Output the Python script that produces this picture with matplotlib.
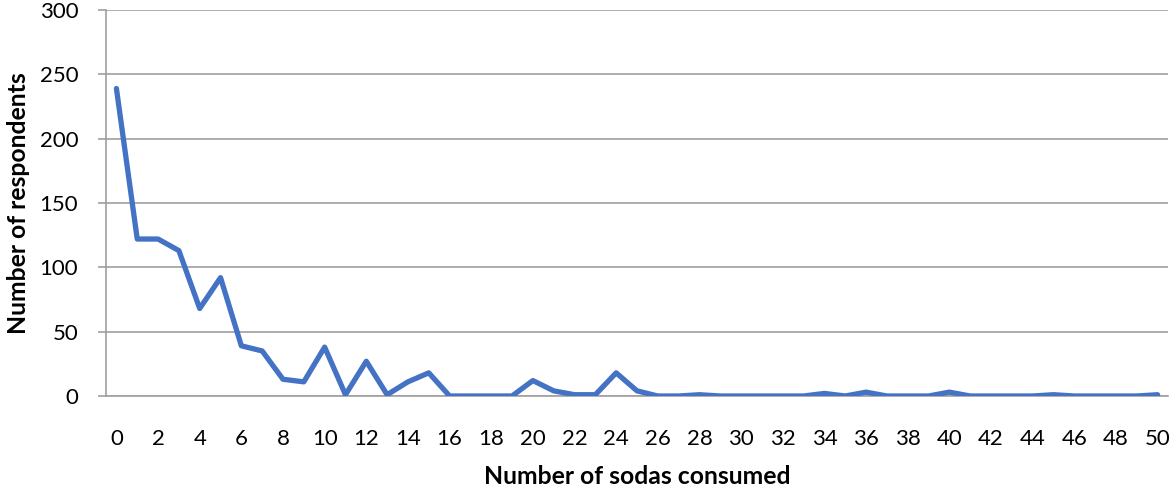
import matplotlib.pyplot as plt

# how many respondents reported each number of sodas (0..50)
sodas = list(range(51))
respondents = [239, 122, 122, 113, 68, 92, 39, 35, 13, 11,
               38, 1, 27, 1, 11, 18, 0, 0, 0, 0,
               12, 4, 1, 1, 18, 4, 0, 0, 1, 0,
               0, 0, 0, 0, 2, 0, 3, 0, 0, 0,
               3, 0, 0, 0, 0, 1, 0, 0, 0, 0,
               1]
y_ticks = [0, 50, 100, 150, 200, 250, 300]

plt.rcParams['font.family'] = ['Lato', 'DejaVu Sans']

fig = plt.figure(figsize=(11.7, 4.9), dpi=100)
ax = fig.add_axes([106 / 1170, 1 - 396 / 490, (1168 - 106) / 1170, 386 / 490])

ax.plot(sodas, respondents, color='#4472C4', linewidth=3.8,
        solid_joinstyle='round', solid_capstyle='round', zorder=3)

ax.set_xlim(-0.5, 50.5)
ax.set_ylim(0, 300)
ax.set_yticks(y_ticks)
ax.set_xticks(sodas[::2])
ax.grid(axis='y', color='#A0A0A0', linewidth=1.2)
ax.set_axisbelow(True)

for side in ['top', 'right']:
    ax.spines[side].set_visible(False)
ax.spines['left'].set_color('#A0A0A0')
ax.spines['bottom'].set_color('#A0A0A0')
ax.spines['left'].set_linewidth(1.2)
ax.spines['bottom'].set_linewidth(1.2)

ax.tick_params(axis='y', length=6, width=1.2, color='#A0A0A0',
               labelsize=16, pad=14, labelcolor='#000000')
ax.tick_params(axis='x', length=0, labelsize=16, pad=24, labelcolor='#000000')

ax.set_xlabel('Number of sodas consumed', fontsize=17.8, fontweight='bold', labelpad=11)
ax.set_ylabel('Number of respondents', fontsize=17.8, fontweight='bold', labelpad=7)

fig.savefig('out.png', dpi=100)
